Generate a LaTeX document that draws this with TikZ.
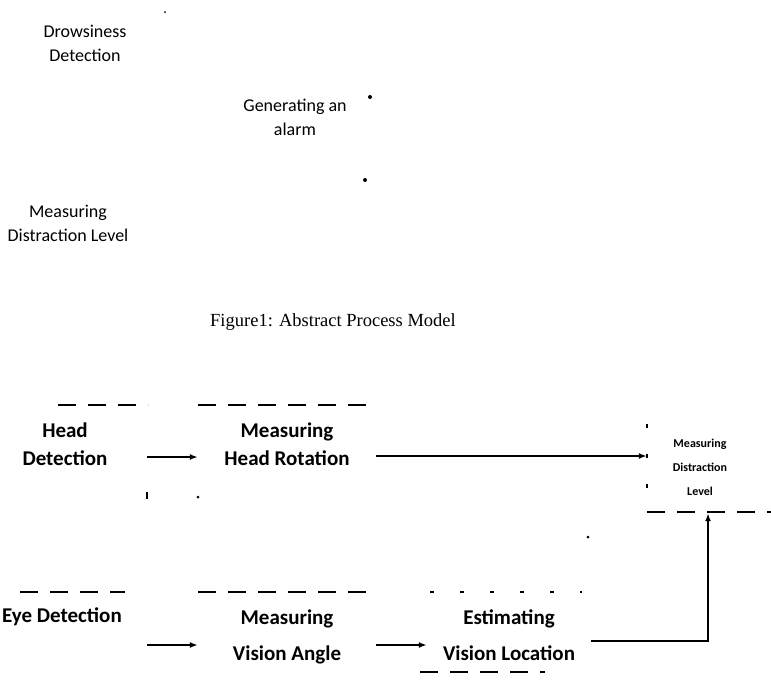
\documentclass[tikz,border=0pt]{standalone}
\usepackage{fontspec}
\setmainfont{Liberation Serif}
\newfontfamily\calibri{Carlito}
\usetikzlibrary{positioning, arrows.meta}

\tikzset{
  proc/.style={font=\calibri\bfseries\fontsize{21}{28}\selectfont, align=center, inner sep=0pt},
  wide/.style={font=\calibri\bfseries\fontsize{21}{36}\selectfont},
  abst/.style={font=\calibri\fontsize{18}{24}\selectfont, align=center, inner sep=0pt},
  frag/.style={line width=1.1pt, dash pattern=on 18pt off 12pt},
  sparse/.style={line width=1.1pt, dash pattern=on 4pt off 26pt},
  flow/.style={-{Latex[length=8pt,width=6pt]}, line width=2pt},
  speck/.style={fill, circle, inner sep=0pt, minimum size=4pt},
}

\begin{document}
\begin{tikzpicture}[x=1pt, y=-1pt]
\useasboundingbox (0,0) rectangle (771,686);

% abstract process model
\node[abst] (drowsy) at (85,43) {Drowsiness\\Detection};
\node[abst] (alarm) at (295,117) {Generating an\\alarm};
\node[abst] (distabs) at (68,223) {Measuring\\Distraction Level};
\node[speck] (tipA) at (370,97) {};
\node[speck] (tipB) at (365,180) {};
\node[speck, minimum size=2pt] (dotA) at (165,12) {};

\node[font=\fontsize{18.5}{22}\selectfont] (caption) at (333,322) {Figure1: Abstract Process Model};

% detailed model, head branch
\node[proc, minimum width=164pt] (headdet) at (65,444) {Head\\Detection};
\node[proc, minimum width=178pt] (headrot) at (287,444) {Measuring\\Head Rotation};
\node[proc, font=\calibri\bfseries\fontsize{12}{24}\selectfont, minimum width=106pt, minimum height=92pt] (distlvl) at (700,467) {Measuring\\Distraction\\Level};

% eye branch
\node[proc, minimum width=170pt] (eyedet) at (62,617) {Eye Detection};
\node[proc, wide, minimum width=178pt] (visang) at (287,637) {Measuring\\Vision Angle};
\node[proc, wide, minimum width=164pt] (visloc) at (509,635) {Estimating\\Vision Location};

\draw[flow] ([yshift=-13pt]headdet.east) -- ([yshift=-13pt]headrot.west);
\draw[flow] ([yshift=-12pt]headrot.east) -- ([yshift=-12pt]headrot.east -| distlvl.west);
\draw[flow] ([yshift=-28pt]eyedet.east) -- ([yshift=-8pt]visang.west);
\draw[flow] ([yshift=-8pt]visang.east) -- ([yshift=-10pt]visloc.west);
\draw[flow] ([yshift=-6pt]visloc.east) -| ([xshift=8pt]distlvl.south);

% what is left of the box outlines
\draw[frag] (58,405) -- (148,405);
\draw[frag] (198,405) -- (375,405);
\draw[line width=1.1pt] (147,492) -- (147,499);
\node[speck, minimum size=3pt] (dotB) at (198,497) {};
\draw[sparse] (647,424) -- (647,512);
\draw[frag] (647,512) -- (771,512);
\draw[frag] (20,592) -- (125,592);
\draw[frag] (198,592) -- (372,592);
\draw[sparse] (430,592) -- (582,592);
\draw[frag] (420,672) -- (545,672);
\node[speck, minimum size=3pt] (dotC) at (588,537) {};
\end{tikzpicture}
\end{document}
